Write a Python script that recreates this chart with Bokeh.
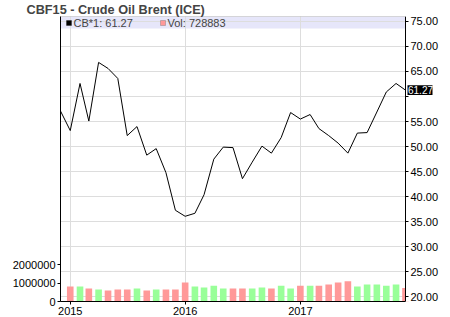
from datetime import datetime
import pandas as pd
from bokeh.plotting import figure
from bokeh.models import (ColumnDataSource, Range1d, LinearAxis, FixedTicker,
                          NumeralTickFormatter, DatetimeTickFormatter, Label,
                          BoxAnnotation)
from bokeh.embed import file_html
from bokeh.resources import INLINE

title = "CBF15 - Crude Oil Brent (ICE)"
months = list(pd.date_range("2014-12-01", "2017-12-01", freq="MS"))
price = [57.1, 53.2, 62.6, 55.1, 66.8, 65.6, 63.6, 52.2, 54.0, 48.3, 49.6, 44.8,
         37.3, 36.1, 36.7, 40.4, 47.5, 49.9, 49.8, 43.6, 46.9, 50.1, 48.7, 51.8,
         56.8, 55.5, 56.4, 53.6, 52.2, 50.7, 48.7, 52.7, 52.8, 56.9, 60.9, 62.6,
         61.27]
vol_months = months[1:]
volume = [810000, 810000, 700000, 650000, 590000, 650000, 650000, 700000, 590000,
          650000, 650000, 650000, 1030000, 810000, 760000, 860000, 700000, 700000,
          700000, 700000, 760000, 700000, 860000, 700000, 860000, 860000, 860000,
          920000, 1030000, 1100000, 810000, 920000, 920000, 860000, 920000, 728883]
last_price = 61.27
last_volume = 728883
price_ticks = [20, 25, 30, 35, 40, 45, 50, 55, 60, 65, 70, 75]
volume_ticks = [0, 1000000, 2000000]
year_ticks = ["2015-01-01", "2016-01-01", "2017-01-01"]

UP = "#99ff99"
DOWN = "#ff9999"
colors = [DOWN if price[i + 1] < price[i] else UP for i in range(len(volume))]
year_ms = [pd.Timestamp(y).value // 10**6 for y in year_ticks]

FONT = "Liberation Sans"
W, H = 450, 317
LEFT, RIGHT_AX, TOP, BOTTOM = 60, 405, 16, 302   # plot area edges (canvas px)
FW, FH = W - LEFT, BOTTOM - TOP

START_MS = pd.Timestamp("2014-12-01").value // 10**6
END_MS = pd.Timestamp("2017-12-01").value // 10**6
# the frame runs on to the canvas edge so the price axis and its tag are not clipped
RANGE_END_MS = START_MS + (END_MS - START_MS) * FW / (RIGHT_AX - LEFT)
P_LO, P_HI = 19.1, 75.96

p = figure(width=W, height=H, x_axis_type="datetime", y_axis_location=None,
           x_range=Range1d(START_MS, RANGE_END_MS),
           y_range=Range1d(P_LO, P_HI),
           output_backend="svg", toolbar_location=None,
           min_border_left=LEFT, min_border_right=0, min_border_top=TOP,
           min_border_bottom=H - BOTTOM)
p.extra_y_ranges = {"vol": Range1d(0, 15.46e6)}
p.outline_line_color = None
p.background_fill_color = "white"
p.border_fill_color = "white"

p.title.text = title
p.title.align = "left"
p.title.offset = -34
p.title.standoff = 0
p.title.text_font = FONT
p.title.text_font_size = "12.7px"
p.title.text_font_style = "bold"

# grids
p.xgrid.ticker = FixedTicker(ticks=year_ms)
p.ygrid.ticker = FixedTicker(ticks=price_ticks)
for g in (p.xgrid[0], p.ygrid[0]):
    g.grid_line_color = "#dddddd"
    g.grid_line_width = 1

# legend band
p.add_layout(BoxAnnotation(bottom=73.58, right=END_MS, fill_color="#e6e6fa",
                           fill_alpha=1, line_color=None, level="image"))

# price axis at the right edge of the plot area
pa = LinearAxis(ticker=FixedTicker(ticks=price_ticks),
                formatter=NumeralTickFormatter(format="0.00"),
                fixed_location=END_MS)
pa.major_label_overrides = {60: ""}
p.add_layout(pa, "right")

# volume axis (left)
va = LinearAxis(y_range_name="vol", ticker=FixedTicker(ticks=volume_ticks),
                formatter=NumeralTickFormatter(format="0"))
p.add_layout(va, "left")

xa = p.xaxis[0]
xa.ticker = FixedTicker(ticks=year_ms)
xa.bounds = (START_MS, END_MS)
xa.formatter = DatetimeTickFormatter(years="%Y", months="%Y", days="%Y",
                                     hours="%Y", minutes="%Y", seconds="%Y",
                                     milliseconds="%Y", microseconds="%Y",
                                     hourmin="%Y", minsec="%Y")

for ax in (pa, va, xa):
    ax.axis_line_color = "black"
    ax.major_tick_line_color = "black"
    ax.major_tick_out = 3
    ax.major_tick_in = 0
    ax.minor_tick_line_color = None
    ax.major_label_text_font = FONT
    ax.major_label_text_font_size = "11px"
    ax.major_label_text_color = "black"
    ax.major_label_standoff = 2
xa.major_label_standoff = 2

# volume bars
vsrc = ColumnDataSource(dict(x=vol_months, top=volume, color=colors))
p.vbar(x="x", top="top", bottom=0, width=21 * 86400000, fill_color="color",
       line_color=None, source=vsrc, y_range_name="vol")

# price line
psrc = ColumnDataSource(dict(x=months, y=price))
p.line(x="x", y="y", source=psrc, line_color="black", line_width=1)

# white cover right of the plot area (hides grid lines / bar overhang)
p.quad(left=[END_MS], right=[RANGE_END_MS], bottom=[P_LO], top=[P_HI],
       fill_color="white", line_color=None)

# plot-area border
p.add_layout(BoxAnnotation(right=END_MS, fill_alpha=0, line_color="black",
                           line_width=1))

# legend content
p.add_layout(BoxAnnotation(left=6, right=11, bottom=276, top=281,
                           left_units="screen", right_units="screen",
                           bottom_units="screen", top_units="screen",
                           fill_color="black", fill_alpha=1, line_color="black"))
p.add_layout(BoxAnnotation(left=100, right=105, bottom=276, top=281,
                           left_units="screen", right_units="screen",
                           bottom_units="screen", top_units="screen",
                           fill_color=DOWN, fill_alpha=1, line_color="#555555"))
p.add_layout(Label(x=13, y=278.5, x_units="screen", y_units="screen",
                   text="CB*1: %.2f" % last_price, text_font=FONT,
                   text_font_size="11px", text_baseline="middle"))
p.add_layout(Label(x=107, y=278.5, x_units="screen", y_units="screen",
                   text="Vol: %d" % last_volume, text_font=FONT,
                   text_font_size="11px", text_baseline="middle"))

# last price tag on the price axis
p.add_layout(BoxAnnotation(left=RIGHT_AX - LEFT + 2, right=RIGHT_AX - LEFT + 27,
                           left_units="screen", right_units="screen",
                           bottom=last_price - 0.95, top=last_price + 0.95,
                           fill_color="black", fill_alpha=1, line_color=None))
p.add_layout(Label(x=END_MS, y=last_price, x_offset=2.5,
                   text="%.2f" % last_price, text_font=FONT,
                   text_font_size="10px", text_baseline="middle",
                   text_color="white"))

open("out.html", "w").write(file_html(p, INLINE))
